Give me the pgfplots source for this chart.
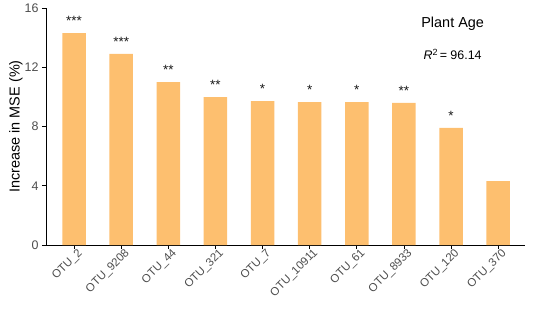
\documentclass[border=0pt]{standalone}
\usepackage{fontspec}
\setmainfont{Liberation Sans}
\usepackage{pgfplots}
\pgfplotsset{compat=1.18}
\usetikzlibrary{calc}
\definecolor{barc}{HTML}{FDBF6F}
\definecolor{tickc}{HTML}{4D4D4D}
\begin{document}
\begin{tikzpicture}[x=1bp,y=1bp]
\begin{axis}[
  name=ax,
  scale only axis,
  width=479bp, height=237bp,
  xmin=-0.595, xmax=9.57,
  ymin=0, ymax=16,
  axis lines*=left,
  axis line style={black, line width=0.8pt},
  ytick={0,4,8,12,16},
  xtick={0,...,9},
  xticklabels={OTU\_2,OTU\_9208,OTU\_44,OTU\_321,OTU\_7,OTU\_10911,OTU\_61,OTU\_8933,OTU\_120,OTU\_370},
  x tick label style={rotate=45, anchor=north east, font=\fontsize{11.5}{13}\selectfont, text=tickc, inner sep=1pt, xshift=4bp},
  y tick label style={font=\fontsize{12.5}{14}\selectfont, text=tickc},
  /pgf/number format/assume math mode=true,
  tick align=outside,
  major tick length=4bp,
  tick style={black, line width=0.6pt},
  ylabel={Increase in MSE (\%)},
  ylabel style={font=\fontsize{14.5}{16}\selectfont, at={(axis description cs:-0.0626,0.5)}, anchor=center},
  ybar, bar width=23.5bp,
  nodes near coords,
  point meta=explicit symbolic,
  nodes near coords style={font=\fontsize{13.5}{14}\selectfont, anchor=south, yshift=4bp, text=black!90},
]
\addplot[fill=barc, draw=none] coordinates {
(0,14.31) [***]
(1,12.90) [***]
(2,11.00) [**]
(3,9.99) [**]
(4,9.72) [*]
(5,9.65) [*]
(6,9.65) [*]
(7,9.59) [**]
(8,7.90) [*]
(9,4.32) []
};
\node[font=\fontsize{14.5}{16}\selectfont] at (rel axis cs:0.849,0.935) {Plant Age};
\node[font=\fontsize{12.5}{14}\selectfont] at (rel axis cs:0.849,0.805) {\textit{R}\raisebox{0.6ex}{\fontsize{9}{10}\selectfont 2}\,= 96.14};
\end{axis}
\pgfresetboundingbox
\path ($(ax.south west)+(-46bp,-70bp)$) rectangle ($(ax.north east)+(9bp,8bp)$);
\end{tikzpicture}
\end{document}
